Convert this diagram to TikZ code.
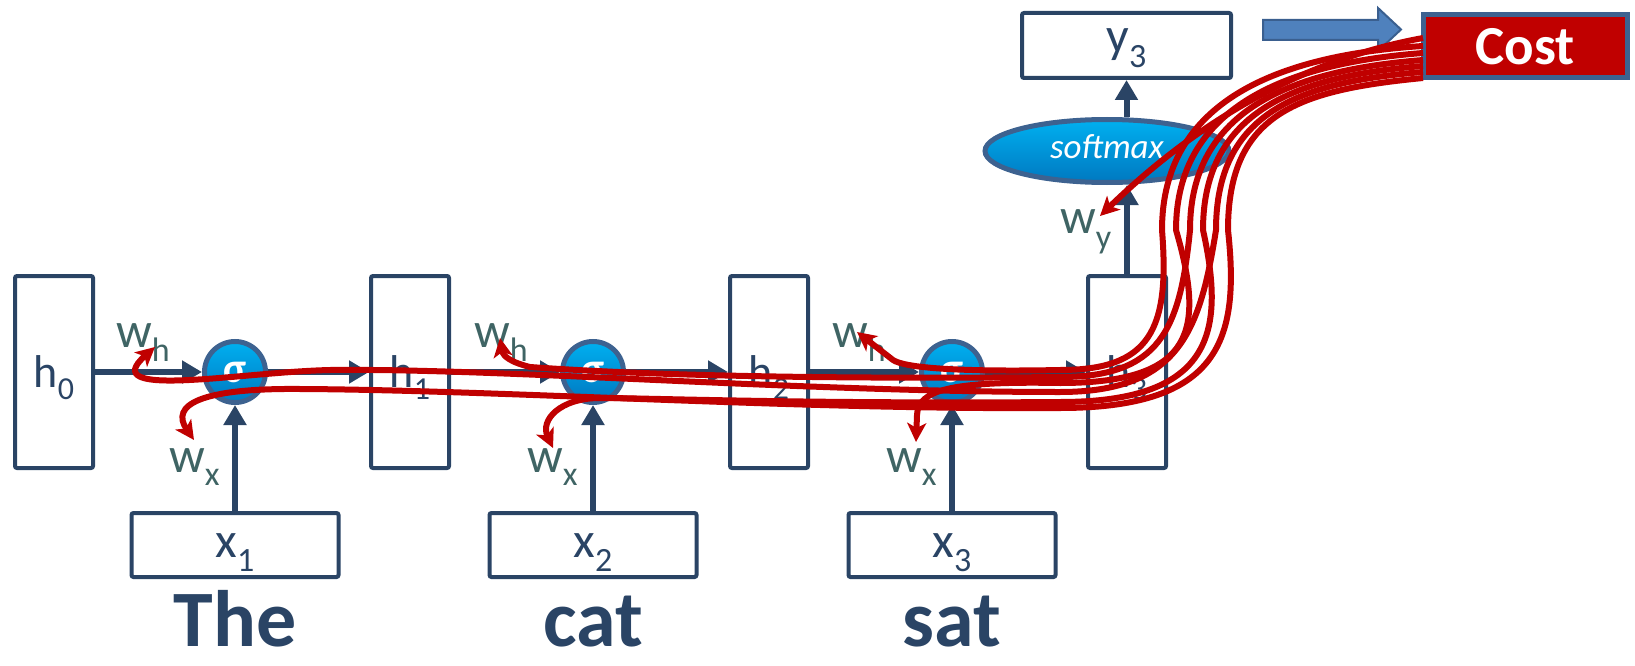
\documentclass[tikz,border=0pt]{standalone}
\usepackage{fontspec}
\setmainfont{Carlito}
\usetikzlibrary{arrows.meta,shapes.geometric}

\definecolor{navy}{HTML}{2A4465}
\definecolor{wgray}{HTML}{3F6464}
\definecolor{costred}{HTML}{C00000}
\definecolor{cyantop}{HTML}{00B0F0}
\definecolor{cyanbot}{HTML}{0078C0}
\definecolor{ringblue}{HTML}{3D6290}
\definecolor{arrowblue}{HTML}{4F81BD}
\definecolor{arrowedge}{HTML}{3A5F8F}

\newcommand{\fsz}[1]{\fontsize{#1}{#1}\selectfont}
% lowered subscript: drop, size, text
\newcommand{\subtext}[3]{\raisebox{-#1pt}{\fsz{#2}#3}}

\begin{document}
\begin{tikzpicture}[x=1pt,y=-1pt,
  hbox/.style={draw=navy, line width=4pt, rounded corners=2pt, minimum width=78pt,
    minimum height=192pt, inner sep=0pt, text=navy, font=\fsz{46}, text height=31pt, text depth=0pt},
  xbox/.style={draw=navy, line width=4pt, rounded corners=2pt, minimum width=207pt,
    minimum height=64pt, inner sep=0pt, text=navy, font=\fsz{50}, text height=24pt, text depth=0pt},
  sig/.style={circle, draw=ringblue, line width=5pt, minimum size=61pt, inner sep=0pt,
    top color=cyantop, bottom color=cyanbot, text=white, font=\bfseries\fsz{42}},
  wlabel/.style={anchor=base west, inner sep=0pt, text=wgray, font=\fsz{50}},
  word/.style={anchor=base, inner sep=0pt, outer sep=0pt, text=navy, font=\bfseries\fsz{80}},
  navyarr/.style={draw=navy, line width=6pt, -{Triangle[length=20pt,width=22pt]}},
  redarr/.style={draw=costred, line width=6pt, -{Stealth[length=19pt,width=19pt,inset=5pt]}}
]
\useasboundingbox (0,0) rectangle (1635,666);

% hidden states
\node[hbox] (h0) at (54,372) {h\subtext{12}{32}{0}};
\node[hbox] (h1) at (410,372) {h\subtext{12}{32}{1}};
\node[hbox] (h2) at (769,372) {h\subtext{12}{32}{2}};
\node[hbox] (h3) at (1127,372) {h\subtext{12}{32}{3}};

% inputs
\node[xbox] (x1) at (235,545) {x\subtext{14}{34}{1}};
\node[xbox] (x2) at (593,545) {x\subtext{14}{34}{2}};
\node[xbox] (x3) at (952,545) {x\subtext{14}{34}{3}};

% words
\node[word] (wThe) at (235,646) {The};
\node[word] (wcat) at (593,646) {cat};
\node[word] (wsat) at (952,646) {sat};

% sigmoid units
\node[sig] (s1) at (235,372) {σ};
\node[sig] (s2) at (593,372) {σ};
\node[sig] (s3) at (952,372) {σ};

% output side
\node[ellipse, draw=ringblue, line width=5pt, minimum width=244pt, minimum height=63pt,
  inner sep=0pt, top color=cyantop, bottom color=cyanbot, text=white,
  font=\itshape\fsz{35}, text height=14pt, text depth=0pt] (sm) at (1107,151) {softmax};
\node[draw=navy, line width=4pt, rounded corners=2pt, minimum width=209pt, minimum height=65pt,
  inner sep=0pt, text=navy, font=\fsz{50}, text height=15pt, text depth=0pt] (y3) at (1126.5,45.5)
  {y\subtext{15}{34}{3}};
\node[draw=ringblue, fill=costred, line width=5pt, minimum width=204pt, minimum height=63pt,
  inner sep=0pt, text=white, font=\bfseries\fsz{55}, text height=38pt, text depth=0pt] (cost)
  at (1525,46) {Cost};

% block arrow towards the cost
\filldraw[fill=arrowblue, draw=arrowedge, line width=2pt]
  (1263,20) -- (1378,20) -- (1378,8) -- (1401,29.5) -- (1378,51) -- (1378,40) -- (1263,40) -- cycle;

% forward connections
\draw[navyarr] (h0.east) -- (s1.west);
\draw[navyarr] (s1.east) -- (h1.west);
\draw[navyarr] (h1.east) -- (s2.west);
\draw[navyarr] (s2.east) -- (h2.west);
\draw[navyarr] (h2.east) -- (s3.west);
\draw[navyarr] (s3.east) -- (h3.west);
\draw[navyarr] (x1.north) -- (s1.south);
\draw[navyarr] (x2.north) -- (s2.south);
\draw[navyarr] (x3.north) -- (s3.south);
\draw[navyarr] (h3.north) -- (h3.north |- sm.south);
\draw[navyarr] (y3.south |- sm.north) -- (y3.south);

% weight labels
\node[wlabel] (wh1) at (116,347) {w\subtext{14}{34}{h}};
\node[wlabel] (wx1) at (169,472) {w\subtext{13}{34}{x}};
\node[wlabel] (wh2) at (474,347) {w\subtext{14}{34}{h}};
\node[wlabel] (wx2) at (527,472) {w\subtext{13}{34}{x}};
\node[wlabel] (wh3) at (832,347) {w\subtext{14}{34}{h}};
\node[wlabel] (wx3) at (886,472) {w\subtext{13}{34}{x}};
\node[wlabel] (wy) at (1060,233) {w\subtext{15}{34}{y}};

% gradient paths from the cost back to every weight
\coordinate (c0) at (1423,38);
\coordinate (c1) at (1423,46);
\coordinate (c2) at (1423,53);
\coordinate (c3) at (1423,60);
\coordinate (c4) at (1423,66);
\coordinate (c5) at (1423,72);
\coordinate (c6) at (1423,78);
\coordinate (ty) at (1100,216);
\coordinate (th3) at (857,332);
\coordinate (tx3) at (916,442);
\coordinate (th2) at (500,338);
\coordinate (tx2) at (553,448);
\coordinate (th1) at (155,347);
\coordinate (tx1) at (194,440);

\draw[redarr] (c0) .. controls (1330,55) and (1220,100) .. (ty);
\draw[redarr] (c1) .. controls (1280,55) and (1162,100) .. (1162,230)
  .. controls (1170,330) and (1150,370) .. (1060,370)
  .. controls (960,372) and (905,368) .. (893,360) -- (th3);
\draw[redarr] (c2) .. controls (1290,63) and (1176,105) .. (1176,230)
  .. controls (1205,330) and (1195,383) .. (1060,383)
  .. controls (950,381) and (918,390) .. (917,415) -- (tx3);
\draw[redarr] (c3) .. controls (1295,70) and (1190,108) .. (1190,230)
  .. controls (1180,330) and (1160,377) .. (1060,377)
  .. controls (750,380) and (600,372) .. (530,367)
  .. controls (510,362) and (503,356) .. (th2);
\draw[redarr] (c4) .. controls (1298,76) and (1203,110) .. (1203,230)
  .. controls (1225,330) and (1215,402) .. (1060,402)
  .. controls (800,404) and (650,398) .. (600,398)
  .. controls (560,398) and (540,420) .. (tx2);
\draw[redarr] (c5) .. controls (1300,82) and (1216,112) .. (1216,230)
  .. controls (1200,330) and (1180,392) .. (1060,392)
  .. controls (800,392) and (500,368) .. (330,370)
  .. controls (240,372) and (95,400) .. (th1);
\draw[redarr] (c6) .. controls (1300,90) and (1228,112) .. (1228,230)
  .. controls (1240,340) and (1220,408) .. (1060,408)
  .. controls (800,410) and (500,390) .. (300,389)
  .. controls (200,388) and (170,405) .. (tx1);
\end{tikzpicture}
\end{document}
